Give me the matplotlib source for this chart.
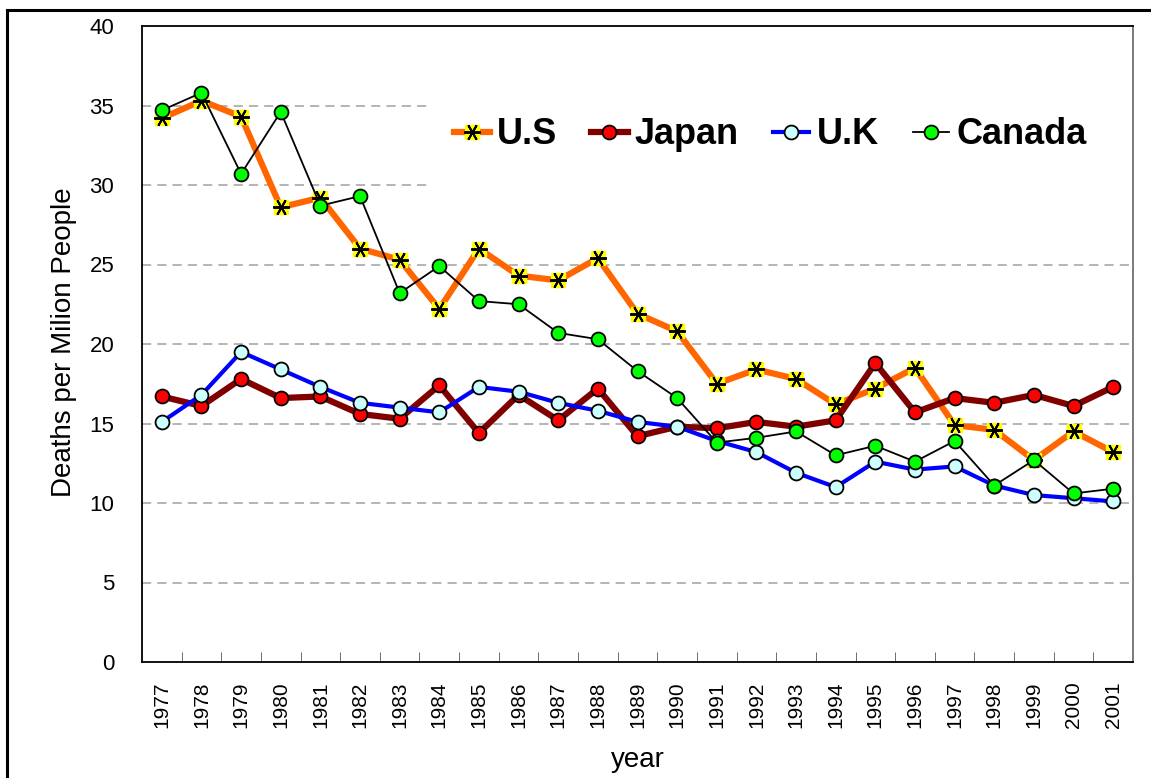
import numpy as np
import matplotlib.pyplot as plt
from matplotlib.lines import Line2D
from matplotlib.patches import Rectangle

plt.rcParams['font.family'] = ['Liberation Sans', 'DejaVu Sans']

# data
years = ['1977', '1978', '1979', '1980', '1981', '1982', '1983', '1984', '1985',
         '1986', '1987', '1988', '1989', '1990', '1991', '1992', '1993', '1994',
         '1995', '1996', '1997', '1998', '1999', '2000', '2001']
us = [34.2, 35.3, 34.3, 28.6, 29.2, 26.0, 25.3, 22.2, 26.0, 24.3, 24.0, 25.4, 21.9,
      20.8, 17.5, 18.4, 17.8, 16.2, 17.2, 18.5, 14.9, 14.6, 12.7, 14.5, 13.2]
japan = [16.7, 16.1, 17.8, 16.6, 16.7, 15.6, 15.3, 17.4, 14.4, 16.8, 15.2, 17.2, 14.2,
         14.8, 14.7, 15.1, 14.8, 15.2, 18.8, 15.7, 16.6, 16.3, 16.8, 16.1, 17.3]
uk = [15.1, 16.8, 19.5, 18.4, 17.3, 16.3, 16.0, 15.7, 17.3, 17.0, 16.3, 15.8, 15.1,
      14.8, 13.9, 13.2, 11.9, 11.0, 12.6, 12.1, 12.3, 11.1, 10.5, 10.3, 10.1]
canada = [34.7, 35.8, 30.7, 34.6, 28.7, 29.3, 23.2, 24.9, 22.7, 22.5, 20.7, 20.3, 18.3,
          16.6, 13.8, 14.1, 14.5, 13.0, 13.6, 12.6, 13.9, 11.1, 12.7, 10.6, 10.9]

x = np.arange(len(years))

fig = plt.figure(figsize=(11.51, 7.78), dpi=100)
ax = fig.add_axes([142 / 1151, 1 - 662 / 778, 991 / 1151, 636 / 778])

# outer chart border (only top and left edges fall inside the picture)
fig.add_artist(Line2D([7 / 1151, 7 / 1151], [0, 1 - 10 / 778], transform=fig.transFigure,
                      color='black', lw=2.2))
fig.add_artist(Line2D([7 / 1151, 1], [1 - 10 / 778, 1 - 10 / 778], transform=fig.transFigure,
                      color='black', lw=2.2))

star = (6, 2, 30)  # asterisk with a vertical arm

# U.S: orange line, yellow squares with asterisk
ax.plot(x, us, color='#FF6600', lw=4.5, marker='s', ms=10, mfc='#FFFF00', mec='#FFFF00',
        zorder=3)
ax.plot(x, us, ls='none', marker=star, ms=12, mec='black', mew=1.4, zorder=3.1)
ax.plot(x, japan, color='#800000', lw=4.5, marker='o', ms=10, mfc='#FF0000', mec='black',
        mew=1.3, zorder=3.2)
ax.plot(x, uk, color='#0000FF', lw=3, marker='o', ms=10, mfc='#CCFFFF', mec='black',
        mew=1.3, zorder=3.3)
ax.plot(x, canada, color='black', lw=1.3, marker='o', ms=10, mfc='#00FF00', mec='black',
        mew=1.3, zorder=3.4)

ax.set_xlim(-0.5, len(years) - 0.5)
ax.set_ylim(0, 40)
ax.set_yticks(np.arange(0, 41, 5))
ax.set_xticks(x)
ax.set_xticklabels(years, rotation=90)
ax.set_xticks(np.arange(0.5, len(years) - 1, 1), minor=True)
ax.tick_params(axis='x', which='major', length=0, pad=14, labelsize=15)
ax.tick_params(axis='x', which='minor', direction='in', length=7, color='#555555')
ax.tick_params(axis='y', length=0, pad=20, labelsize=16)

for v in range(5, 40, 5):
    ax.axhline(v, color='#A0A0A0', lw=1.1, ls=(0, (6, 4)), zorder=0.5)

# white area behind the legend hides the gridlines there
ax.add_patch(Rectangle(((430 - 142) / 991, (662 - 195) / 636), (1133 - 430) / 991,
                       100 / 636, transform=ax.transAxes, facecolor='white',
                       edgecolor='none', zorder=1))

for s in ax.spines.values():
    s.set_linewidth(1.3)
    s.set_color('black')
ax.spines['right'].set_color('#707070')

ax.set_ylabel('Deaths per Milion People', fontsize=20)
ax.set_xlabel('year', fontsize=20)
ax.yaxis.set_label_coords(-0.066, 0.503)
ax.xaxis.set_label_coords(0.5, -0.133)

handles = [
    (Line2D([], [], color='#FF6600', lw=4.5, marker='s', ms=10, mfc='#FFFF00', mec='#FFFF00'),
     Line2D([], [], ls='none', marker=star, ms=12, mec='black', mew=1.4)),
    Line2D([], [], color='#800000', lw=4.5, marker='o', ms=10, mfc='#FF0000', mec='black', mew=1.3),
    Line2D([], [], color='#0000FF', lw=3, marker='o', ms=10, mfc='#CCFFFF', mec='black', mew=1.3),
    Line2D([], [], color='black', lw=1.3, marker='o', ms=10, mfc='#00FF00', mec='black', mew=1.3),
]
fig.legend(handles, ['U.S', 'Japan', 'U.K', 'Canada'], loc='center',
           bbox_to_anchor=(770 / 1151, 1 - 135 / 778), ncol=4, frameon=False,
           prop={'size': 26, 'weight': 'bold'}, handlelength=1.0, handletextpad=0.2,
           columnspacing=0.95)

fig.savefig('out.png', dpi=100)
